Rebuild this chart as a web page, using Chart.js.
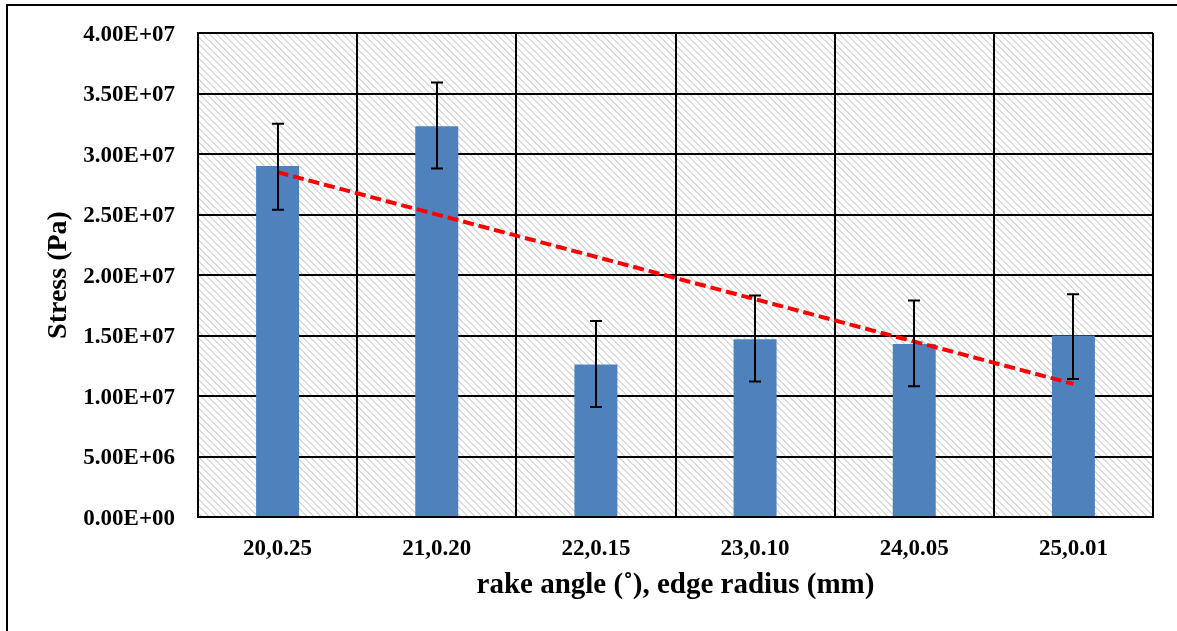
<!DOCTYPE html>
<html>
<head>
<meta charset="utf-8">
<script src="https://cdn.jsdelivr.net/npm/chart.js@4/dist/chart.umd.min.js"></script>
<style>
  html, body { margin: 0; padding: 0; background: #ffffff; }
  canvas { display: block; }
</style>
</head>
<body>
<canvas id="c" width="1177" height="631"></canvas>
<script>
// ---- data ----
const categories = ["20,0.25", "21,0.20", "22,0.15", "23,0.10", "24,0.05", "25,0.01"];
const stress     = [2.90e7, 3.23e7, 1.26e7, 1.47e7, 1.43e7, 1.50e7];
const errHigh    = [3.25e7, 3.59e7, 1.62e7, 1.83e7, 1.79e7, 1.84e7];
const errLow     = [2.54e7, 2.88e7, 0.91e7, 1.12e7, 1.08e7, 1.14e7];
const trend      = [2.85e7, null, null, null, null, 1.10e7];
const yTicks     = [0, 5e6, 1e7, 1.5e7, 2e7, 2.5e7, 3e7, 3.5e7, 4e7];

const FONT = "'Liberation Serif', 'Times New Roman', serif";

function fmtE(v) {
  if (v === 0) return "0.00E+00";
  const e = Math.floor(Math.log10(Math.abs(v)) + 1e-9);
  const m = v / Math.pow(10, e);
  const es = (e < 10 ? "0" : "") + e;
  return m.toFixed(2) + "E+" + es;
}

// hatch pattern
function makeHatch() {
  const t = document.createElement('canvas');
  const n = 7;
  t.width = n; t.height = n;
  const g = t.getContext('2d');
  g.fillStyle = '#ffffff';
  g.fillRect(0, 0, n, n);
  g.fillStyle = '#dadada';
  for (let y = 0; y < n; y++) {
    for (let x = 0; x < n; x++) {
      const d = ((x - y) % n + n) % n;
      if (d === 0 || d === 1) g.fillRect(x, y, 1, 1);
    }
  }
  return t;
}
const hatchTile = makeHatch();

const bgPlugin = {
  id: 'hatchBg',
  beforeDraw(chart) {
    const { ctx, chartArea: a } = chart;
    ctx.save();
    ctx.fillStyle = ctx.createPattern(hatchTile, 'repeat');
    ctx.fillRect(a.left, a.top, a.right - a.left, a.bottom - a.top);
    ctx.restore();
  },
  afterDraw(chart) {
    const { ctx } = chart;
    ctx.save();
    ctx.strokeStyle = '#000';
    ctx.lineWidth = 2;
    ctx.strokeRect(7, 5, 1300, 800);
    ctx.restore();
  }
};

const errPlugin = {
  id: 'errBars',
  afterDatasetsDraw(chart) {
    const { ctx } = chart;
    const xs = chart.scales.x, ys = chart.scales.y;
    ctx.save();
    ctx.strokeStyle = '#000';
    ctx.lineWidth = 2;
    const cap = 6;
    for (let i = 0; i < categories.length; i++) {
      const x = Math.round(xs.getPixelForValue(i));
      const yh = ys.getPixelForValue(errHigh[i]);
      const yl = ys.getPixelForValue(errLow[i]);
      ctx.beginPath();
      ctx.moveTo(x, yh); ctx.lineTo(x, yl);
      ctx.moveTo(x - cap, yh); ctx.lineTo(x + cap, yh);
      ctx.moveTo(x - cap, yl); ctx.lineTo(x + cap, yl);
      ctx.stroke();
    }
    ctx.restore();
  }
};

new Chart(document.getElementById('c'), {
  type: 'bar',
  data: {
    labels: categories,
    datasets: [
      {
        type: 'line',
        data: trend,
        borderColor: '#ff0000',
        borderWidth: 4,
        borderDash: [11, 5],
        pointRadius: 0,
        spanGaps: true,
        fill: false,
        order: 0
      },
      {
        type: 'bar',
        data: stress,
        backgroundColor: '#4f81bd',
        borderWidth: 0,
        barPercentage: 0.27,
        categoryPercentage: 1.0,
        order: 1
      }
    ]
  },
  options: {
    responsive: false,
    animation: false,
    layout: { padding: { top: 33, right: 24, left: 0, bottom: 0 } },
    plugins: { legend: { display: false }, tooltip: { enabled: false } },
    scales: {
      x: {
        grid: { color: '#000', lineWidth: 2, drawTicks: false, offset: true },
        border: { color: '#000', width: 2 },
        ticks: { color: '#000', font: { family: FONT, size: 23, weight: 'bold' }, padding: 18 },
        title: {
          display: true, text: 'rake angle (˚), edge radius (mm)', color: '#000',
          font: { family: FONT, size: 29, weight: 'bold' }, padding: { top: 0, bottom: 28 }
        },
        afterFit(s) { s.height = 114; }
      },
      y: {
        min: 0, max: 4e7,
        afterBuildTicks(s) { s.ticks = yTicks.map(v => ({ value: v })); },
        grid: { color: '#000', lineWidth: 2, drawTicks: true, tickLength: 18, tickColor: 'rgba(0,0,0,0)' },
        border: { color: '#000', width: 2 },
        ticks: {
          color: '#000', font: { family: FONT, size: 23, weight: 'bold' }, padding: 5,
          labelOffset: 2,
          callback: (v) => fmtE(v)
        },
        title: {
          display: true, text: 'Stress (Pa)', color: '#000',
          font: { family: FONT, size: 28, weight: 'bold' }, padding: { top: 42, bottom: 0 }
        },
        afterFit(s) { s.width = 198; }
      }
    }
  },
  plugins: [bgPlugin, errPlugin]
});
</script>
</body>
</html>
